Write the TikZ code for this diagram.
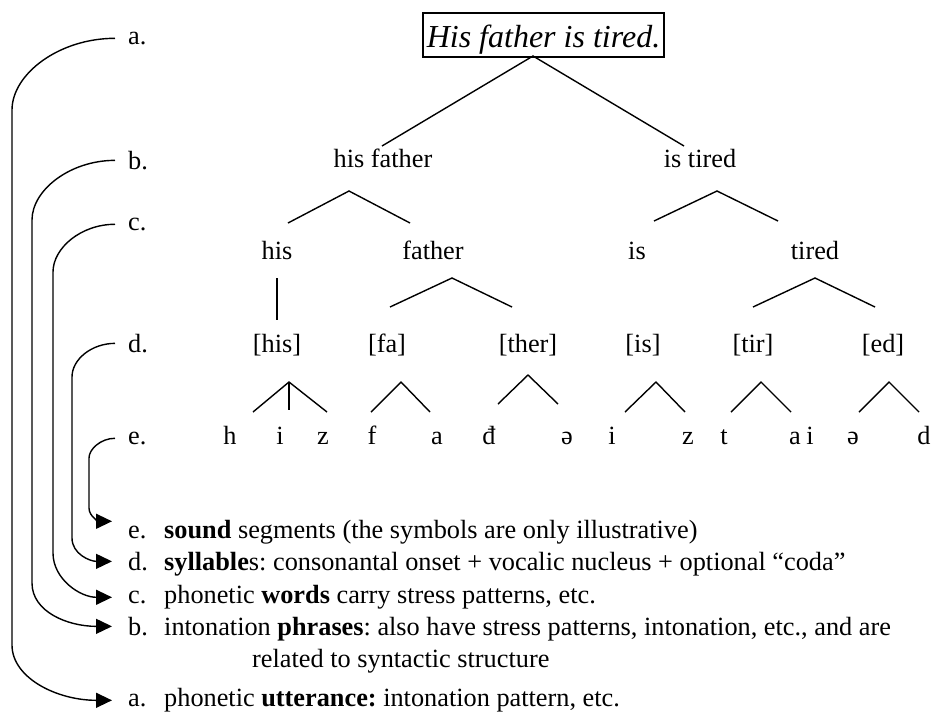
\documentclass[tikz,border=0pt]{standalone}
\usepackage{fontspec}
\setmainfont{Liberation Serif}
\usetikzlibrary{arrows.meta}
\frenchspacing
\newcommand\bodyfont{\fontsize{26.3}{30}\selectfont}
\newcommand\headfont{\fontsize{32}{36}\selectfont\itshape}
\tikzset{
  word/.style={inner sep=0pt, anchor=mid, font=\bodyfont},
  lab/.style={inner sep=0pt, anchor=mid west, font=\bodyfont},
  branch/.style={line width=1.4pt},
  link/.style={line width=1.4pt},
  linkarr/.style={link, -{Triangle[length=16pt,width=15pt]}},
}
\begin{document}
\begin{tikzpicture}[x=1pt,y=-1pt]
\useasboundingbox (0,0) rectangle (932,716);

% sentence box
\node[draw, line width=1.6pt, font=\headfont, inner xsep=4pt, inner ysep=4pt,
      text height=31pt, text depth=5pt, anchor=north] (top) at (543.5,12) {His father is tired.};

% level labels on the left
\node[lab] (ta) at (128,42)  {a.};
\node[lab] (tb) at (128,167) {b.};
\node[lab] (tc) at (128,228) {c.};
\node[lab] (td) at (128,350) {d.};
\node[lab] (te) at (128,442) {e.};

% phrases
\node[word] (hf) at (383,165) {his father};
\node[word] (it) at (700,165) {is tired};
% words
\node[word] (w1) at (277,257) {his};
\node[word] (w2) at (433,257) {father};
\node[word] (w3) at (637,257) {is};
\node[word] (w4) at (815,257) {tired};
% syllables
\node[word] (s1) at (277,350) {[his]};
\node[word] (s2) at (387,350) {[fa]};
\node[word] (s3) at (528,350) {[ther]};
\node[word] (s4) at (643,350) {[is]};
\node[word] (s5) at (753,350) {[tir]};
\node[word] (s6) at (883,350) {[ed]};
% segments
\node[word] (p1)  at (230,442) {h};
\node[word] (p2)  at (280,442) {i};
\node[word] (p3)  at (323,442) {z};
\node[word] (p4)  at (372,442) {f};
\node[word] (p5)  at (437,442) {a};
\node[word] (p6)  at (489,442) {đ};
\node[word] (p7)  at (567,442) {ə};
\node[word] (p8)  at (612,442) {i};
\node[word] (p9)  at (688,442) {z};
\node[word] (p10) at (724,442) {t};
\node[word] (p11) at (795,442) {a};
\node[word] (p12) at (810,442) {i};
\node[word] (p13) at (853,442) {ə};
\node[word] (p14) at (924,442) {d};

% branch points
\coordinate (r0) at (533,56);
\coordinate (r0l) at (382,146);  \coordinate (r0r) at (684,146);
\coordinate (hfa) at (349,191);  \coordinate (hfl) at (288,223); \coordinate (hfr) at (410,223);
\coordinate (ita) at (717,191);  \coordinate (itl) at (654,221); \coordinate (itr) at (778,221);
\coordinate (w1a) at (277,278);  \coordinate (w1b) at (277,320);
\coordinate (w2a) at (452,278);  \coordinate (w2l) at (390,307); \coordinate (w2r) at (512,307);
\coordinate (w4a) at (815,278);  \coordinate (w4l) at (753,307); \coordinate (w4r) at (875,307);
\coordinate (s1a) at (289,382);  \coordinate (s1l) at (253,412); \coordinate (s1m) at (289,410); \coordinate (s1r) at (327,412);
\coordinate (s2a) at (401,382);  \coordinate (s2l) at (371,412); \coordinate (s2r) at (430,412);
\coordinate (s3a) at (528,375);  \coordinate (s3l) at (498,404); \coordinate (s3r) at (558,404);
\coordinate (s4a) at (656,382);  \coordinate (s4l) at (625,412); \coordinate (s4r) at (685,412);
\coordinate (s5a) at (761,382);  \coordinate (s5l) at (731,412); \coordinate (s5r) at (791,412);
\coordinate (s6a) at (889,382);  \coordinate (s6l) at (859,412); \coordinate (s6r) at (919,412);

% tree branches
\draw[branch] (r0l) -- (r0) -- (r0r);
\draw[branch] (hfl) -- (hfa) -- (hfr);
\draw[branch] (itl) -- (ita) -- (itr);
\draw[branch] (w1a) -- (w1b);
\draw[branch] (w2l) -- (w2a) -- (w2r);
\draw[branch] (w4l) -- (w4a) -- (w4r);
\draw[branch] (s1l) -- (s1a) -- (s1r);
\draw[line width=2.6pt] (s1a) -- (s1m);
\draw[branch] (s2l) -- (s2a) -- (s2r);
\draw[branch] (s3l) -- (s3a) -- (s3r);
\draw[branch] (s4l) -- (s4a) -- (s4r);
\draw[branch] (s5l) -- (s5a) -- (s5r);
\draw[branch] (s6l) -- (s6a) -- (s6r);

% legend
\node[lab] (be) at (128,536) {e.};
\node[lab] (bd) at (128,568) {d.};
\node[lab] (bc) at (128,601) {c.};
\node[lab] (bb) at (128,633) {b.};
\node[lab] (ba) at (128,704) {a.};
\node[lab] (xe) at (164,536) {\textbf{sound} segments (the symbols are only illustrative)};
\node[lab] (xd) at (164,568) {\textbf{syllable}s: consonantal onset + vocalic nucleus + optional “coda”};
\node[lab] (xc) at (164,601) {phonetic \textbf{words} carry stress patterns, etc.};
\node[lab] (xb) at (164,633) {intonation \textbf{phrases}: also have stress patterns, intonation, etc., and are};
\node[lab] (xb2) at (252,665) {related to syntactic structure};
\node[lab] (xa) at (164,704) {phonetic \textbf{utterance:} intonation pattern, etc.};

% level links
\draw[linkarr] ([xshift=-13pt]ta.west) .. controls +(-56,0) and +(0,-36) .. (12,110)
  -- (12,645) .. controls +(0,33) and +(-55,0) .. ([xshift=-16pt]ba.west);
\draw[linkarr] ([xshift=-13pt]tb.west) .. controls +(-45,0) and +(0,-30) .. (32,220)
  -- (32,583) .. controls +(0,29) and +(-44,0) .. ([xshift=-16pt]bb.west);
\draw[linkarr] ([xshift=-13pt]tc.west) .. controls +(-34,0) and +(0,-24) .. (53,272)
  -- (53,553) .. controls +(0,26) and +(-32,0) .. ([xshift=-16pt]bc.west);
\draw[linkarr] ([xshift=-13pt]td.west) .. controls +(-23,0) and +(0,-18) .. (72,377)
  -- (72,538) .. controls +(0,16) and +(-22,0) .. ([xshift=-16pt]bd.west);
\draw[linkarr] ([xshift=-13pt]te.west) .. controls +(-14,0) and +(0,-9) .. (89,458)
  -- (89,508) .. controls +(0,9) and +(-12,0) .. ([xshift=-16pt,yshift=11pt]be.west);
\end{tikzpicture}
\end{document}
